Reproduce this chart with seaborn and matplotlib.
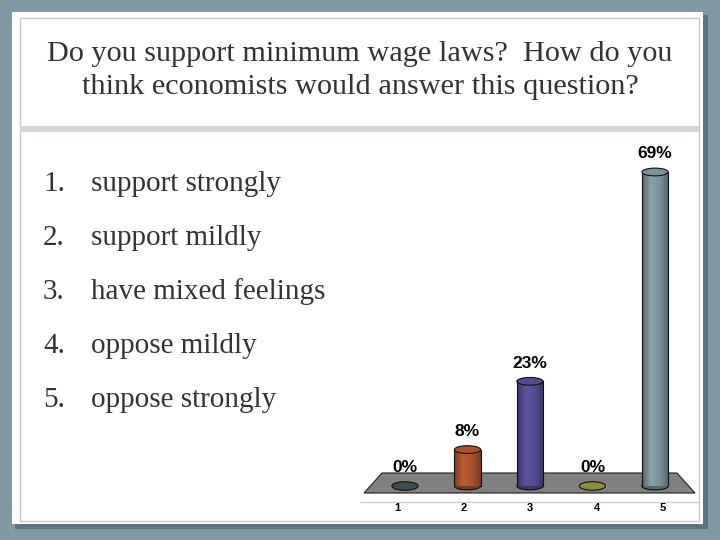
import numpy as np
import pandas as pd
import matplotlib
matplotlib.use("Agg")
import matplotlib.pyplot as plt
from matplotlib.patches import Rectangle, Ellipse, Polygon
from matplotlib.colors import LinearSegmentedColormap, to_rgb
import seaborn as sns

# data
categories = ["1", "2", "3", "4", "5"]
percent = [0, 8, 23, 0, 69]
answers = ["support strongly", "support mildly", "have mixed feelings",
           "oppose mildly", "oppose strongly"]
bar_colors = ["#3f4c4c", "#a9532f", "#514c8e", "#8d8d3e", "#7c9198"]
title_lines = ["Do you support minimum wage laws?  How do you",
               "think economists would answer this question?"]

sns.set_theme(style="white")
plt.rcParams["font.family"] = ["Liberation Sans", "DejaVu Sans"]

W, H = 720, 540
fig = plt.figure(figsize=(7.2, 5.4), dpi=100)
fig.patch.set_facecolor("#8299a3")


def box(x0, y0, x1, y1, **kw):
    # rectangle given in pixel coords (origin top-left)
    fig.add_artist(Rectangle((x0 / W, 1 - y1 / H), (x1 - x0) / W, (y1 - y0) / H,
                             transform=fig.transFigure, zorder=-5, **kw))


# slide frame
box(15, 15, 708, 529, facecolor="#5d7480", edgecolor="none")
box(12, 12, 703, 524, facecolor="white", edgecolor="none")
box(20, 18, 699, 521, facecolor="none", edgecolor="#c9c9c9", lw=1)
box(20, 126, 699, 132, facecolor="#d2d5d7", edgecolor="none")

# title
for i, line in enumerate(title_lines):
    fig.text(0.5, 1 - (54 + 33 * i) / H, line, ha="center", va="center",
             fontsize=21.8, color="#333333", family="Liberation Serif")

# numbered answers
for i, a in enumerate(answers):
    y = 1 - (184 + 54 * i) / H
    fig.text(43 / W, y, f"{i + 1}.", ha="left", va="center", fontsize=21,
             color="#333333", family="Liberation Serif")
    fig.text(91 / W, y, a, ha="left", va="center", fontsize=21,
             color="#333333", family="Liberation Serif")

# chart area
ax = fig.add_axes([340 / W, 20 / H, 360 / W, 380 / H])
ax.set_zorder(5)
ax.patch.set_alpha(0)
df = pd.DataFrame({"cat": categories, "pct": percent})
sns.barplot(data=df, x="cat", y="pct", hue="cat", palette=bar_colors,
            width=0.42, legend=False, ax=ax, saturation=1, zorder=3)
ax.set_xlim(-1.04, 4.72)
ax.set_ylim(-7.47, 76.03)
for s in ax.spines.values():
    s.set_visible(False)
ax.set_xticks([])
ax.set_yticks([])
ax.set_xlabel("")
ax.set_ylabel("")

# floor
ax.add_patch(Polygon([(-0.656, -1.54), (4.64, -1.54), (4.352, 2.86), (-0.368, 2.86)],
                     closed=True, facecolor="#808080", edgecolor="#222222",
                     lw=0.8, zorder=1))
ax.plot([-0.72, 4.704], [-3.52, -3.52], color="#cfcfcf", lw=1, zorder=1)

cap_h = 1.7
for i, (p, col) in enumerate(zip(ax.patches[:len(percent)], bar_colors)):
    x0, w, h = p.get_x(), p.get_width(), p.get_height()
    cx = x0 + w / 2
    r, g, b = to_rgb(col)
    dark = (r * 0.7, g * 0.7, b * 0.7)
    light = tuple(min(1, c * 1.12) for c in (r, g, b))
    if h > 0:
        cmap = LinearSegmentedColormap.from_list(
            "cyl", [dark, light, (r, g, b), dark])
        grad = np.linspace(0, 1, 64).reshape(1, -1)
        im = ax.imshow(grad, cmap=cmap, extent=[x0, x0 + w, 0, h],
                       aspect="auto", zorder=3)
        im.set_clip_path(p)
        p.set_edgecolor("none")
        ax.add_patch(Ellipse((cx, 0), w, cap_h, facecolor=dark,
                             edgecolor="#111111", lw=0.8, zorder=2.9))
        ax.plot([x0, x0], [0, h], color="#111111", lw=0.8, zorder=4)
        ax.plot([x0 + w, x0 + w], [0, h], color="#111111", lw=0.8, zorder=4)
        ax.add_patch(Ellipse((cx, h), w, cap_h, facecolor=col,
                             edgecolor="#111111", lw=0.8, zorder=5))
    else:
        ax.add_patch(Ellipse((cx, 0), w, cap_h * 1.1, facecolor=col,
                             edgecolor="#111111", lw=0.8, zorder=3))
    ax.annotate(f"{percent[i]}%", (cx, h), xytext=(0, 13),
                textcoords="offset points", ha="center", va="center",
                fontsize=12.5, fontweight="bold", color="black", zorder=6)
    # category labels sit on the floor's front edge, spread a little wider
    ax.text(2 + (i - 2) * 1.064, -4.83, categories[i], ha="center",
            va="center", fontsize=8, fontweight="bold", color="black")

fig.savefig("out.png", dpi=100, facecolor=fig.get_facecolor())
